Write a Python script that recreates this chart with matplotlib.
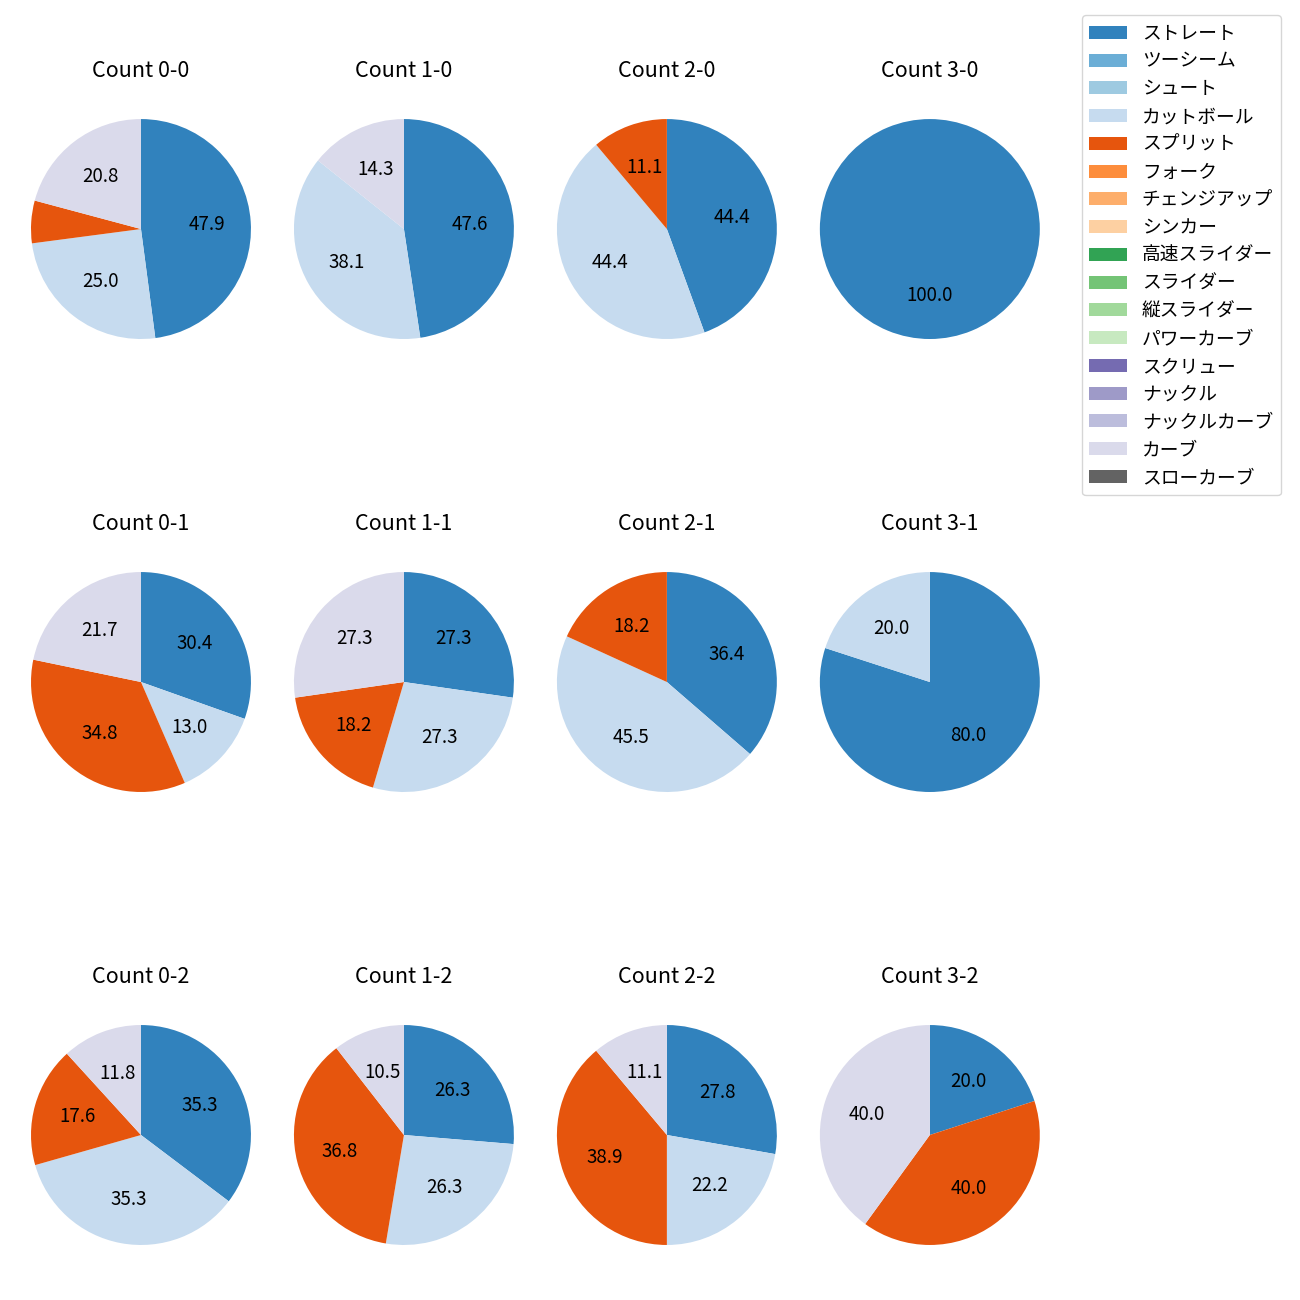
import matplotlib
matplotlib.use('Agg')
import matplotlib.pyplot as plt

plt.rcParams['font.family'] = ['Noto Sans CJK JP', 'DejaVu Sans']

pitch_types = ['ストレート', 'ツーシーム', 'シュート', 'カットボール', 'スプリット', 'フォーク',
               'チェンジアップ', 'シンカー', '高速スライダー', 'スライダー', '縦スライダー',
               'パワーカーブ', 'スクリュー', 'ナックル', 'ナックルカーブ', 'カーブ', 'スローカーブ']

# pitch counts per ball-strike count: ストレート, カットボール, スプリット, カーブ
counts = ['0-0', '1-0', '2-0', '3-0',
          '0-1', '1-1', '2-1', '3-1',
          '0-2', '1-2', '2-2', '3-2']
straight = [23, 10, 4, 2, 7, 3, 4, 4, 6, 5, 5, 1]
cutter = [12, 8, 4, 0, 3, 3, 5, 1, 6, 5, 4, 0]
splitter = [3, 0, 1, 0, 8, 2, 2, 0, 3, 7, 7, 2]
curve = [10, 3, 0, 0, 5, 3, 0, 0, 2, 2, 2, 2]


def make_values(i):
    vals = [0] * len(pitch_types)
    vals[pitch_types.index('ストレート')] = straight[i]
    vals[pitch_types.index('カットボール')] = cutter[i]
    vals[pitch_types.index('スプリット')] = splitter[i]
    vals[pitch_types.index('カーブ')] = curve[i]
    return vals


def autopct(p):
    return '%.1f' % p if p >= 10 else ''


colors = plt.get_cmap('tab20c').colors[:len(pitch_types)]

fig, axes = plt.subplots(3, 4, figsize=(13, 13))
plt.subplots_adjust(left=0.0027, right=0.821, wspace=-0.0436,
                    top=0.9392, bottom=0.01154, hspace=0.51)

wedges = None
for i, ax in enumerate(axes.flat):
    w, _, _ = ax.pie(make_values(i), colors=colors, startangle=90, counterclock=False,
                     autopct=autopct, textprops={'fontsize': 13.5})
    ax.set_title('Count ' + counts[i], fontsize=15.5, pad=10.5)
    if wedges is None:
        wedges = w

fig.legend(wedges, pitch_types, loc='upper right', bbox_to_anchor=(0.9923, 0.9953),
           fontsize=13.5, labelspacing=0.36)

plt.savefig('out.png', dpi=100)
